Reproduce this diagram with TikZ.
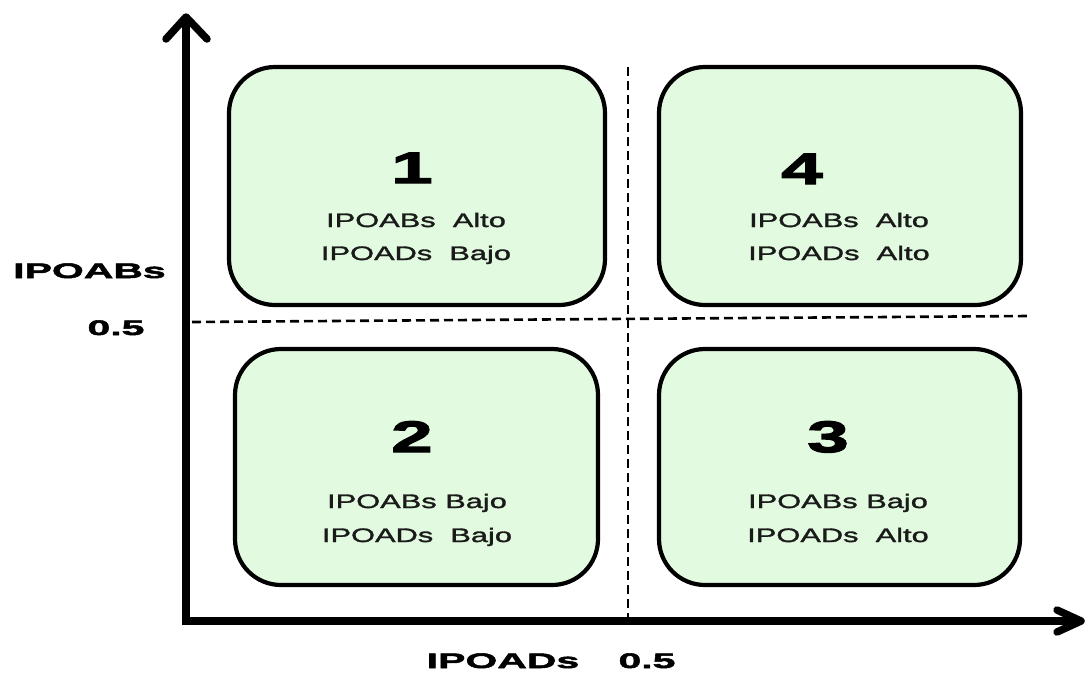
\documentclass[tikz,border=0pt]{standalone}
\usepackage{fontspec}
\setmainfont{Liberation Sans}
\newfontface\quadfont{Liberation Sans}[FakeStretch=1.58, FakeBold=1.6]
\newfontface\axisfont{Liberation Sans Bold}[FakeStretch=1.95, FakeBold=2.5]
\newfontface\numfont{Liberation Sans Bold}[FakeStretch=1.7, FakeBold=3]
\definecolor{quadfill}{HTML}{E2FBE0}
\definecolor{inktext}{HTML}{1A1A1A}
\tikzset{
  quad/.style={draw=black, line width=4.2pt, fill=quadfill, rounded corners=46pt, inner sep=0pt},
  quadnum/.style={font=\numfont\fontsize{44}{46}\selectfont, text=black, anchor=base, inner sep=0pt},
  quadline/.style={font=\quadfont\fontsize{19.5}{22}\selectfont, text=inktext, anchor=base, inner sep=0pt},
  axislabel/.style={font=\axisfont\fontsize{21}{24}\selectfont, text=black, anchor=base, inner sep=0pt},
  axisline/.style={line width=8pt, line join=miter},
  axistip/.style={line width=7.5pt, line cap=round, line join=round},
  divider/.style={line width=2.6pt, dash pattern=on 9pt off 5pt}
}
\begin{document}
\begin{tikzpicture}[x=1pt, y=-1pt]
  \useasboundingbox (0,0) rectangle (1086,673);

  % quadrant boxes
  \node[quad, minimum width=376pt, minimum height=238pt] (q1) at (417,186) {};
  \node[quad, minimum width=362pt, minimum height=238pt] (q4) at (840,186) {};
  \node[quad, minimum width=363pt, minimum height=236pt] (q2) at (416.5,467) {};
  \node[quad, minimum width=361pt, minimum height=236pt] (q3) at (839.5,467) {};

  % dividing lines at 0.5
  \coordinate (vtop) at (628,67);
  \coordinate (vbot) at (628,619);
  \coordinate (hleft) at (192,322);
  \coordinate (hright) at (1027,316);
  \draw[divider] (vtop) -- (vbot);
  \draw[divider] (hleft) -- (hright);

  % axes
  \coordinate (ytop) at (186,17);
  \coordinate (origin) at (186,621);
  \coordinate (xend) at (1081,621);
  \draw[axisline] (ytop) -- (origin) -- (xend);
  \draw[axistip] (ytop) ++(-20,22) -- (ytop) -- ++(21,22);
  \draw[axistip] (xend) ++(-24,-11) -- (xend) -- ++(-24,11);

  % axis labels
  \node[axislabel] (ylab) at (89.5,278) {IPOABs};
  \node[axislabel] (yhalf) at (116,335) {0.5};
  \node[axislabel] (xlab) at (503,668) {IPOADs};
  \node[axislabel] (xhalf) at (647,668) {0.5};

  % quadrant 1
  \node[quadnum] (n1) at (412,183) {1};
  \node[quadline] (q1a) at (416,227) {IPOABs\ \ Alto};
  \node[quadline] (q1b) at (416,260) {IPOADs\ \ Bajo};

  % quadrant 4
  \node[quadnum] (n4) at (802,184) {4};
  \node[quadline] (q4a) at (839,227) {IPOABs\ \ Alto};
  \node[quadline] (q4b) at (839,260) {IPOADs\ \ Alto};

  % quadrant 2
  \node[quadnum] (n2) at (412,452) {2};
  \node[quadline] (q2a) at (417,508) {IPOABs Bajo};
  \node[quadline] (q2b) at (417,542) {IPOADs\ \ Bajo};

  % quadrant 3
  \node[quadnum] (n3) at (828,452) {3};
  \node[quadline] (q3a) at (838,508) {IPOABs Bajo};
  \node[quadline] (q3b) at (838,542) {IPOADs\ \ Alto};
\end{tikzpicture}
\end{document}
